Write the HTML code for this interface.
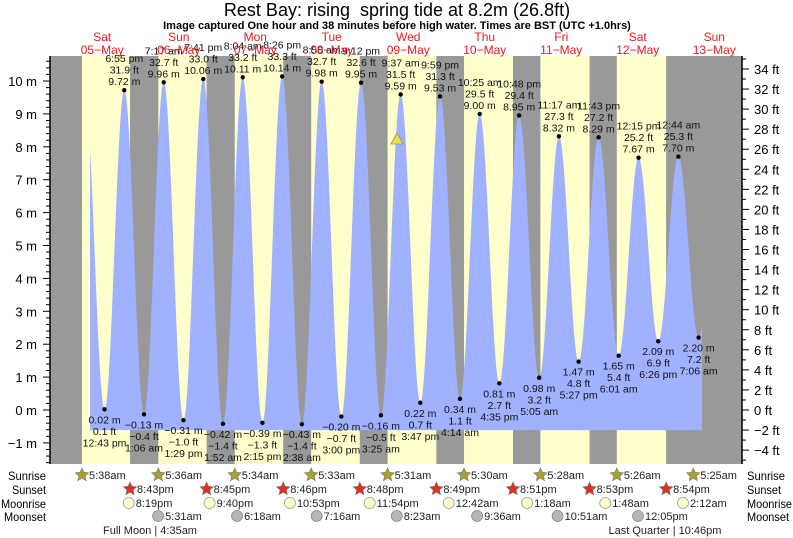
<!DOCTYPE html>
<html><head><meta charset="utf-8"><style>
html,body{margin:0;padding:0;background:#fff;}
svg{display:block;font-family:"Liberation Sans",sans-serif;}
</style></head><body>
<svg id="s" width="793" height="538" viewBox="0 0 793 538" xmlns="http://www.w3.org/2000/svg"></svg>
<script>
var S=document.getElementById('s');var h='';
var X0=64,PH=76.5/24;
function tx(d,hh,mm){return X0+d*76.5+(hh+mm/60)*PH;}
function ym(m){return 410-m*32.9;}
h+='<rect x="50" y="56" width="692" height="408" fill="#999"/>';
var sr=[[5,38],[5,36],[5,34],[5,33],[5,31],[5,30],[5,28],[5,26],[5,25]];
var ss=[[20,43],[20,45],[20,46],[20,48],[20,49],[20,51],[20,53],[20,54]];
for(var d=0;d<8;d++){var a=tx(d,sr[d][0],sr[d][1]),b=tx(d,ss[d][0],ss[d][1]);h+='<rect x="'+a+'" y="56" width="'+(b-a)+'" height="408" fill="#ffffcc"/>';}
var T=[[0,6,30,9.5],[0,12,43,0.02],[0,18,55,9.72],[1,1,6,-0.13],[1,7,17,9.96],[1,13,29,-0.31],[1,19,41,10.06],[2,1,52,-0.42],[2,8,4,10.11],[2,14,15,-0.39],[2,20,26,10.14],[3,2,38,-0.43],[3,8,50,9.98],[3,15,0,-0.20],[3,21,12,9.95],[4,3,25,-0.16],[4,9,37,9.59],[4,15,47,0.22],[4,21,59,9.53],[5,4,14,0.34],[5,10,25,9.00],[5,16,35,0.81],[5,22,48,8.95],[6,5,5,0.98],[6,11,17,8.32],[6,17,27,1.47],[6,23,43,8.29],[7,6,1,1.65],[7,12,15,7.67],[7,18,26,2.09],[8,0,44,7.70],[8,7,6,2.20],[8,13,20,7.6]];
var P=T.map(function(t){return [tx(t[0],t[1],t[2]),t[3]];});
var xs=90,xe=702,yb=ym(-0.61);var pts=[];
for(var x=xs;x<=xe;x+=0.5){for(var i=0;i<P.length-1;i++){if(x>=P[i][0]&&x<=P[i+1][0]){var f=(x-P[i][0])/(P[i+1][0]-P[i][0]);var v=P[i][1]+(P[i+1][1]-P[i][1])*(1-Math.cos(Math.PI*f))/2;pts.push(x.toFixed(1)+','+ym(v).toFixed(1));break;}}}
h+='<polygon points="'+xs+','+yb+' '+pts.join(' ')+' '+xe+','+yb+'" fill="#9fb1ff"/>';
h+='<line x1="50" y1="56" x2="50" y2="464" stroke="#000" stroke-width="1.5"/><line x1="742" y1="56" x2="742" y2="464" stroke="#000" stroke-width="1.5"/>';
for(var m=-1.6;m<=10.7;m+=0.2){var y=ym(m);var mj=Math.abs(m-Math.round(m))<0.01;h+='<line x1="'+(mj?43:46)+'" y1="'+y+'" x2="50" y2="'+y+'" stroke="#000"/>';if(mj){var r=Math.round(m);h+='<text x="37" y="'+(y+5)+'" font-size="13" text-anchor="end">'+(r<0?'\u2212'+(-r):r)+' m</text>';}}
for(var f=-5;f<=35;f++){var y=410-f*10.03;if(y<56||y>464)continue;var mj=f%2==0;h+='<line x1="742" y1="'+y+'" x2="'+(mj?749:746)+'" y2="'+y+'" stroke="#000"/>';if(mj)h+='<text x="754" y="'+(y+5)+'" font-size="13">'+(f<0?'\u2212'+(-f):f)+' ft</text>';}
function fm(hh,mm){var ap=hh<12?'am':'pm';var k=hh%12;if(k==0)k=12;return k+':'+(mm<10?'0':'')+mm+' '+ap;}
function n(v,d){var s=Math.abs(v).toFixed(d);return (v<0?'\u2212':'')+s;}
for(var i=1;i<T.length-1;i++){var t=T[i],x=P[i][0],y=ym(t[3]);h+='<circle cx="'+x+'" cy="'+y+'" r="2.2" fill="#000"/>';var ft=t[3]*3.2808;var L=[fm(t[1],t[2]),n(ft,1)+' ft',n(t[3],2)+' m'];var hi=t[3]>5;
for(var j=0;j<3;j++){var yy=hi?y-28+j*11.5:y+14+(2-j)*11.5;h+='<text x="'+x+'" y="'+yy+'" font-size="10.5" text-anchor="middle" fill="#111">'+L[j]+'</text>';}}
h+='<polygon points="397,133 391,144 403,144" fill="#e6e04a" stroke="#999960" stroke-width="0.8"/>';
h+='<text x="397" y="16" font-size="18" text-anchor="middle">Rest Bay: rising\u00a0 spring tide at 8.2m (26.8ft)</text>';
h+='<text x="397" y="29" font-size="11" font-weight="bold" text-anchor="middle">Image captured One hour and 38 minutes before high water. Times are BST (UTC +1.0hrs)</text>';
var dn=['Sat','Sun','Mon','Tue','Wed','Thu','Fri','Sat','Sun'],dt=['05','06','07','08','09','10','11','12','13'];
for(var d=0;d<9;d++){var x=tx(d,12,0);h+='<text x="'+x+'" y="41" font-size="12" fill="#e02020" text-anchor="middle">'+dn[d]+'</text><text x="'+x+'" y="54" font-size="12" fill="#e02020" text-anchor="middle">'+dt[d]+'\u2212May</text>';}
var rows=['Sunrise','Sunset','Moonrise','Moonset'],ry=[475,489,503,516],tw=[38,34,45,42];
for(var i=0;i<4;i++){h+='<text x="'+(46-tw[i])+'" y="'+(ry[i]+5)+'" font-size="12" textLength="'+tw[i]+'" lengthAdjust="spacingAndGlyphs">'+rows[i]+'</text><text x="747" y="'+(ry[i]+5)+'" font-size="12" textLength="'+tw[i]+'" lengthAdjust="spacingAndGlyphs">'+rows[i]+'</text>';}
function star(x,y,c){var p=[];for(var k=0;k<10;k++){var a=-Math.PI/2+k*Math.PI/5,r=k%2?3.3:7;p.push((x+r*Math.cos(a)).toFixed(1)+','+(y+r*Math.sin(a)).toFixed(1));}return '<polygon points="'+p.join(' ')+'" fill="'+c+'" stroke="#777" stroke-width="0.6"/>';}
function lbl(x,y,s){return '<text x="'+(x+7)+'" y="'+(y+4)+'" font-size="11" fill="#222">'+s+'</text>';}
function fa(hh,mm){var ap=hh<12?'am':'pm';var k=hh%12;if(k==0)k=12;return k+':'+(mm<10?'0':'')+mm+ap;}
for(var d=0;d<9;d++){var x=tx(d,sr[d][0],sr[d][1]);h+=star(x,475,'#a8a030')+lbl(x,475,fa(sr[d][0],sr[d][1]));}
for(var d=0;d<8;d++){var x=tx(d,ss[d][0],ss[d][1]);h+=star(x,489,'#e03020')+lbl(x,489,fa(ss[d][0],ss[d][1]));}
var mr=[[0,20,19],[1,21,40],[2,22,53],[3,23,54],[5,0,42],[6,1,18],[7,1,48],[8,2,12]];
mr.forEach(function(t){var x=tx(t[0],t[1],t[2]);h+='<circle cx="'+x+'" cy="503" r="5.5" fill="#ffffcc" stroke="#999" stroke-width="0.8"/>'+lbl(x,503,fa(t[1],t[2]));});
var ms=[[1,5,31],[2,6,18],[3,7,16],[4,8,23],[5,9,36],[6,10,51],[7,12,5]];
ms.forEach(function(t){var x=tx(t[0],t[1],t[2]);h+='<circle cx="'+x+'" cy="516" r="5.5" fill="#b8b8b0" stroke="#888" stroke-width="0.8"/>'+lbl(x,516,fa(t[1],t[2]));});
h+='<text x="150" y="534" font-size="11" text-anchor="middle" fill="#222">Full Moon | 4:35am</text>';
h+='<text x="665" y="534" font-size="11" text-anchor="middle" fill="#222">Last Quarter | 10:46pm</text>';
S.innerHTML=h;
</script>
</body></html>
